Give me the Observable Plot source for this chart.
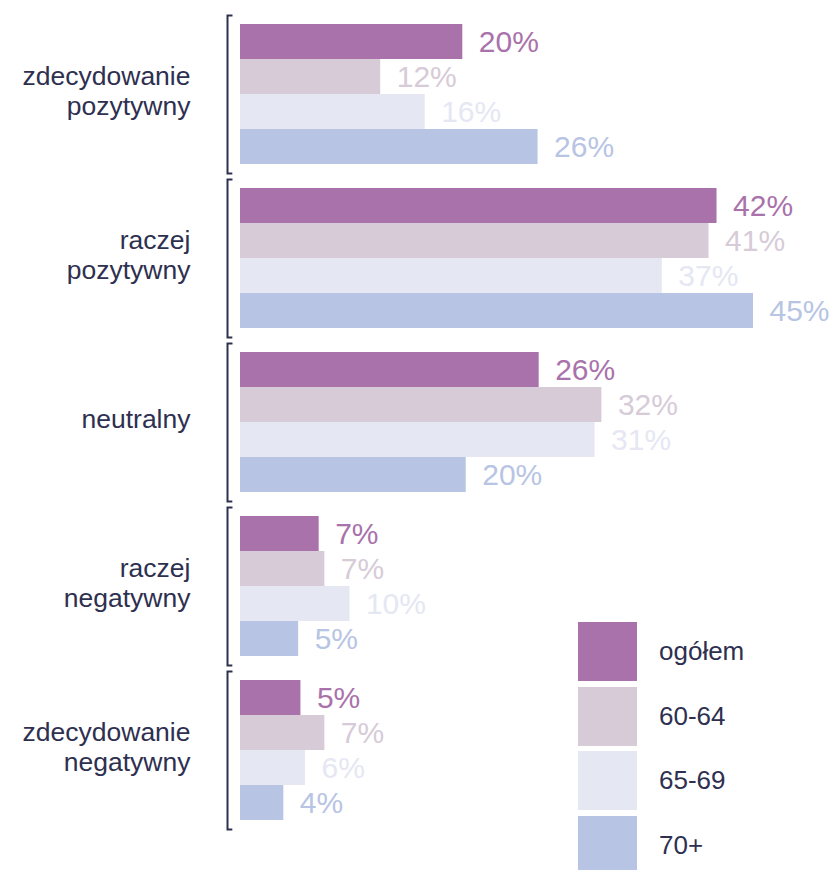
<!DOCTYPE html>
<html>
<head>
<meta charset="utf-8">
<script src="https://cdn.jsdelivr.net/npm/d3@7"></script>
<script src="https://cdn.jsdelivr.net/npm/@observablehq/plot@0.6"></script>
<style>
  body { margin: 0; background: #fff; font-family: "Liberation Sans", Arial, sans-serif; }
  #wrap { position: relative; width: 836px; height: 870px; overflow: hidden; }
  #legend { position: absolute; left: 578px; top: 622px; }
  .row { display: flex; align-items: center; height: 59px; margin-bottom: 5.5px; }
  .sw { width: 59px; height: 59px; }
  .lab { margin-left: 22px; font-size: 26px; color: #2e3050; }
</style>
</head>
<body>
<div id="wrap"></div>
<script>
const categories = ["zdecydowanie\npozytywny", "raczej\npozytywny", "neutralny", "raczej\nnegatywny", "zdecydowanie\nnegatywny"];
const series = ["ogółem", "60-64", "65-69", "70+"];
const colors = ["#a972ab", "#d7cbd8", "#e5e7f3", "#b8c4e3"];
const ogolem = [19.5, 41.8, 26.2, 6.9, 5.3];
const s6064  = [12.3, 41.1, 31.7, 7.4, 7.4];
const s6569  = [16.2, 37.0, 31.1, 9.6, 5.7];
const s70    = [26.1, 45.0, 19.8, 5.1, 3.8];
const labelsOgolem = [20, 42, 26, 7, 5];
const labels6064   = [12, 41, 32, 7, 7];
const labels6569   = [16, 37, 31, 10, 6];
const labels70     = [26, 45, 20, 5, 4];

const seriesValues = [ogolem, s6064, s6569, s70];
const seriesLabels = [labelsOgolem, labels6064, labels6569, labels70];
const data = [];
categories.forEach((c, i) => {
  series.forEach((s, j) => {
    data.push({category: c, series: s, value: seriesValues[j][i], label: seriesLabels[j][i] + "%"});
  });
});

const W = 836, H = 870, mL = 240, mR = 26, mT = 23, mB = 50;
const textColor = "#2e3050";

// bracket geometry (frame with dash pattern: top tick, gap, bottom tick + left side)
const bIn = 9, bLeft = 13, tick = 5;
const bandStep = (H - mT - mB) / (5 - 24/164);
const bandW = bandStep * (140/164);
const fw = (W - mL - mR) + bLeft;
const fh = bandW + 2 * bIn;
const dash = `${tick},${2*fw - 2*tick + fh},${fh + tick}`;

const chart = Plot.plot({
  width: W,
  height: H,
  marginLeft: mL,
  marginRight: mR,
  marginTop: mT,
  marginBottom: mB,
  style: {fontFamily: "'Liberation Sans', Arial, sans-serif", background: "#fff"},
  x: {domain: [0, 50], axis: null},
  y: {domain: series, padding: 0, axis: null},
  fy: {domain: categories, paddingInner: 24/164, paddingOuter: 0, axis: null},
  color: {domain: series, range: colors},
  marks: [
    Plot.frame({stroke: textColor, strokeWidth: 2, insetLeft: -bLeft, insetTop: -bIn, insetBottom: -bIn, strokeDasharray: dash}),
    Plot.barX(data, {fy: "category", y: "series", x: "value", fill: "series"}),
    Plot.text(data, {fy: "category", y: "series", x: "value", text: "label", fill: "series",
      dx: 16, textAnchor: "start", fontSize: 30}),
    Plot.text(categories, {fy: d => d, text: d => d, frameAnchor: "left", dx: -50, dy: -4,
      textAnchor: "end", fontSize: 26.5, fill: textColor, lineHeight: 1.12})
  ]
});

const wrap = document.getElementById("wrap");
wrap.appendChild(chart);
const legend = document.createElement("div");
legend.id = "legend";
series.forEach((s, i) => {
  const row = document.createElement("div");
  row.className = "row";
  const sw = document.createElement("div");
  sw.className = "sw";
  sw.style.background = colors[i];
  const lab = document.createElement("span");
  lab.className = "lab";
  lab.textContent = s;
  row.appendChild(sw);
  row.appendChild(lab);
  legend.appendChild(row);
});
wrap.appendChild(legend);
</script>
</body>
</html>
